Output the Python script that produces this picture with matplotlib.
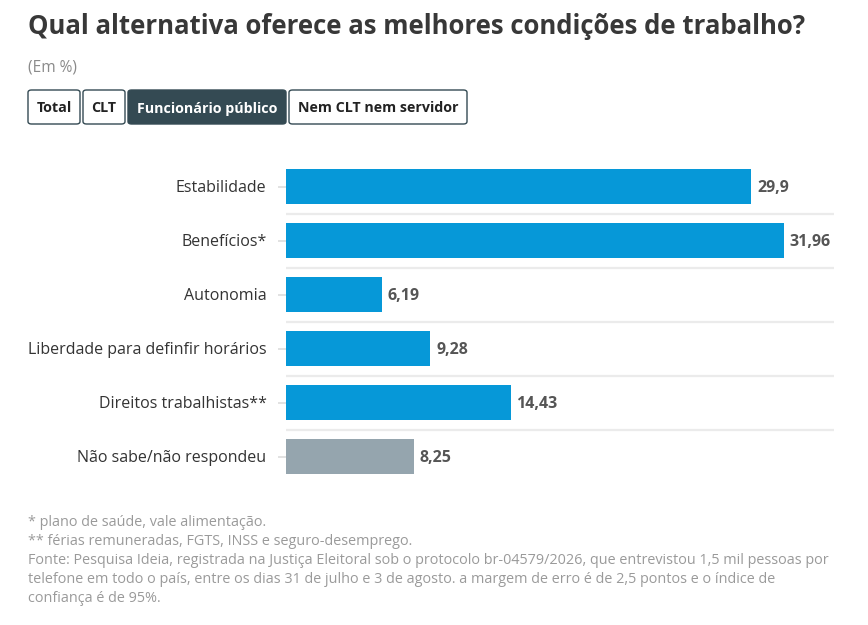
import matplotlib.pyplot as plt
from matplotlib.patches import FancyBboxPatch

categories = [
    "Estabilidade",
    "Benefícios*",
    "Autonomia",
    "Liberdade para definfir horários",
    "Direitos trabalhistas**",
    "Não sabe/não respondeu",
]
values = [29.9, 31.96, 6.19, 9.28, 14.43, 8.25]
value_labels = ["29,9", "31,96", "6,19", "9,28", "14,43", "8,25"]
bar_colors = ["#0698d8"] * 5 + ["#95a5ae"]

title = "Qual alternativa oferece as melhores condições de trabalho?"
subtitle = "(Em %)"
tabs = ["Total", "CLT", "Funcionário público", "Nem CLT nem servidor"]
active_tab = "Funcionário público"
notes = [
    "* plano de saúde, vale alimentação.",
    "** férias remuneradas, FGTS, INSS e seguro-desemprego.",
    "Fonte: Pesquisa Ideia, registrada na Justiça Eleitoral sob o protocolo br-04579/2026, que entrevistou 1,5 mil pessoas por",
    "telefone em todo o país, entre os dias 31 de julho e 3 de agosto. a margem de erro é de 2,5 pontos e o índice de",
    "confiança é de 95%.",
]

W, H = 868, 625
plt.rcParams["font.family"] = ["Open Sans", "DejaVu Sans"]

fig = plt.figure(figsize=(W / 100, H / 100), dpi=100)
fig.patch.set_facecolor("white")


def fx(px):
    return px / W


def fy(py):
    return 1 - py / H


fig.text(fx(28), fy(27), title, fontsize=18.5, fontweight="bold", color="#383838", va="center", ha="left")
fig.text(fx(28), fy(68), subtitle, fontsize=11.2, color="#8a8a8a", va="center", ha="left")

# tab buttons
tab_x = [(28, 80), (83, 125), (128, 286), (289, 467)]
for name, (x0, x1) in zip(tabs, tab_x):
    active = name == active_tab
    box = FancyBboxPatch(
        (fx(x0), fy(124)), fx(x1 - x0), (124 - 90) / H,
        boxstyle="round,pad=0,rounding_size=0.004",
        transform=fig.transFigure,
        facecolor="#344a53" if active else "white",
        edgecolor="#344a53",
        linewidth=1.0,
    )
    fig.add_artist(box)
    fig.text(fx((x0 + x1) / 2), fy(108.5), name, fontsize=10.3, fontweight="bold",
             color="white" if active else "#222222", ha="center", va="center")

# bar chart
ax = fig.add_axes([fx(286), fy(483.5), fx(834 - 286), (483.5 - 159.5) / H])
ypos = list(range(len(categories)))
ax.barh(ypos, values, height=0.65, color=bar_colors)
for i in range(len(categories) - 1):
    ax.axhline(i + 0.5, color="#ebebeb", linewidth=1.6, zorder=0)
for y, v, lab in zip(ypos, values, value_labels):
    ax.annotate(lab, (v, y), xytext=(4, -1), textcoords="offset points",
                ha="left", va="center", fontsize=11.5, fontweight="bold", color="#555555")

ax.set_xlim(0, 35.2)
ax.set_ylim(len(categories) - 0.5, -0.5)
ax.set_yticks(ypos)
ax.set_yticklabels(categories, fontsize=11.5, color="#333333")
ax.tick_params(axis="y", length=6, color="#dddddd", width=1.2, pad=8)
ax.set_xticks([])
for s in ax.spines.values():
    s.set_visible(False)

# footnotes
for i, line in enumerate(notes):
    fig.text(fx(28), fy(522.5 + i * 19), line, fontsize=10.4, color="#9a9a9a", ha="left", va="center")

fig.savefig("out.png", dpi=100)
